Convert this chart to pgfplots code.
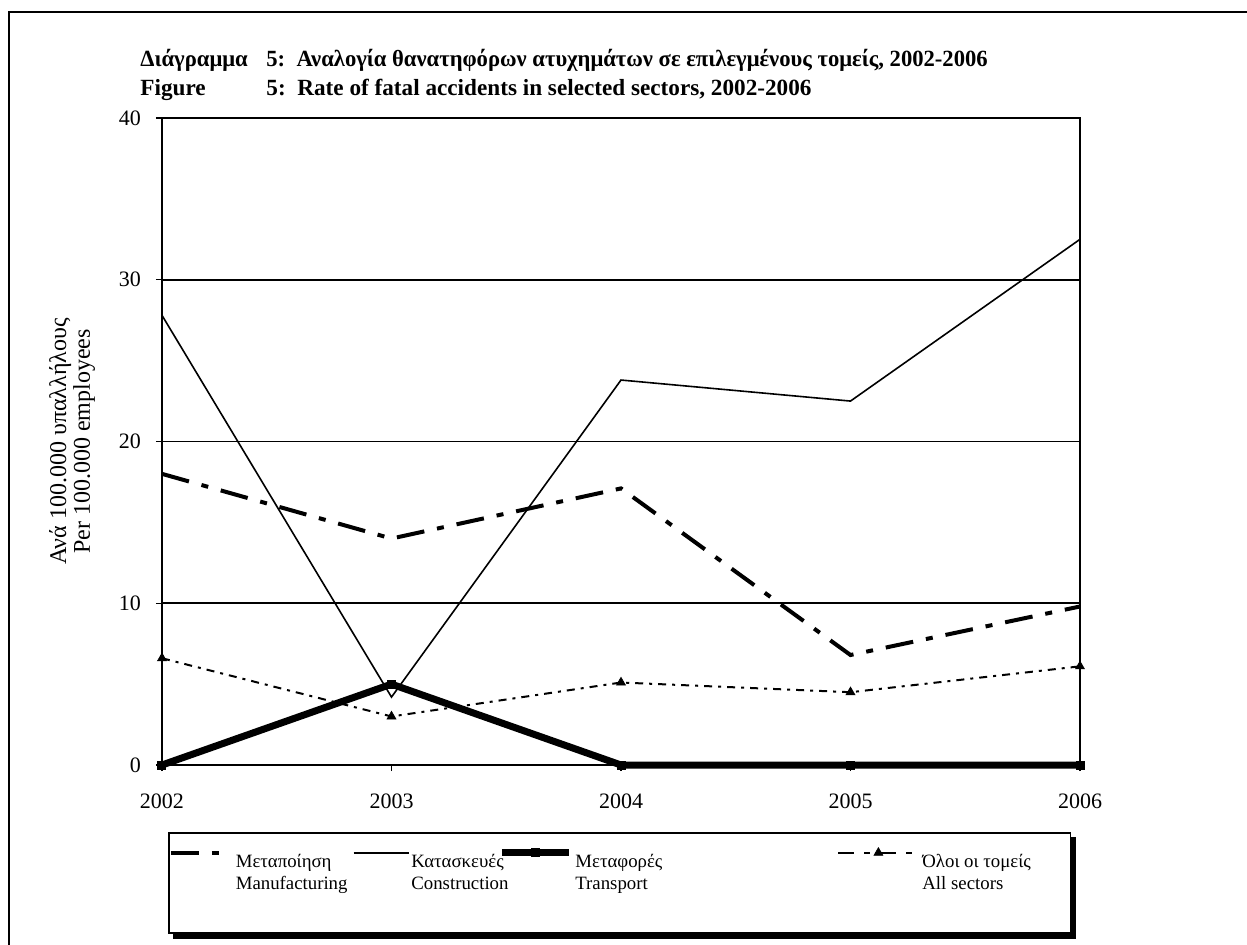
\documentclass[border=0pt]{standalone}
\usepackage{fontspec}
\setmainfont{Liberation Serif}
\usepackage{pgfplots}
\pgfplotsset{compat=1.18}
\pgfdeclarelayer{background}
\pgfsetlayers{background,main}

\pgfplotsset{
  limgA/.style={legend image code/.code={\draw[##1] (0pt,15pt) -- (25pt,15pt);}},
  limgB/.style={legend image code/.code={\draw[##1] (0pt,15pt) -- (27.5pt,15pt);}},
  limgC/.style={legend image code/.code={\draw[mark repeat=2, mark phase=2, ##1] plot coordinates {(0pt,15pt) (16.75pt,15pt) (33.5pt,15pt)};}},
  limgD/.style={legend image code/.code={\draw[mark repeat=2, mark phase=2, ##1, dash pattern=on 8pt off 5pt on 3pt off 5pt] plot coordinates {(0pt,15pt) (20pt,15pt) (40pt,15pt)};}},
}

\begin{document}
\begin{tikzpicture}[x=1pt,y=1pt]
\useasboundingbox (0,0) rectangle (623.5,472);
\draw[line width=0.9pt] (4.5,-5) -- (4.5,466) -- (630,466);
\node[anchor=base west, inner sep=0pt, font=\bfseries\fontsize{11.6}{14}\selectfont] at (70,438.5)
  {\scalebox{0.975}[1]{\makebox[64.6pt][l]{Διάγραμμα}5:\ \ Αναλογία θανατηφόρων ατυχημάτων σε επιλεγμένους τομείς, 2002-2006}};
\node[anchor=base west, inner sep=0pt, font=\bfseries\fontsize{11.6}{14}\selectfont] at (70,424)
  {\makebox[63pt][l]{Figure}5:\ \ Rate of fatal accidents in selected sectors, 2002-2006};
\begin{axis}[
  at={(81pt,89.5pt)}, anchor=south west,
  scale only axis, width=459pt, height=323.5pt,
  xmin=0, xmax=4, ymin=0, ymax=40,
  xtick={0,1,2,3,4}, xticklabels={2002,2003,2004,2005,2006},
  ytick={0,10,20,30,40},
  ymajorgrids, grid style={black, line width=0.9pt},
  axis line style={line width=1.1pt},
  tick style={black, line width=0.6pt},
  tick align=outside, major tick length=3pt,
  xtick pos=left, ytick pos=left,
  ticklabel style={font=\fontsize{11}{12}\selectfont},
  xticklabel style={yshift=-8pt},
  yticklabel style={xshift=-4pt},
  /pgf/number format/assume math mode=true,
  clip=false,
  ylabel={Ανά 100.000 υπαλλήλους\\Per 100.000 employees},
  ylabel style={at={(axis description cs:-0.098,0.5)}, anchor=center, align=center, font=\fontsize{12}{10.5}\selectfont},
  legend columns=4,
  legend style={at={(axis description cs:0.00654,-0.10355)}, anchor=north west, name=leg,
    draw=black, fill=white, line width=0.8pt, inner xsep=0pt, inner ysep=7pt,
    column sep=0pt, row sep=0pt,
    font=\fontsize{9.4}{11}\selectfont,
    nodes={inner sep=0pt, text height=10.5pt, text depth=25.5pt}},
]
\addplot[black, line width=2pt, dash pattern=on 14pt off 6.5pt on 3.5pt off 6.5pt, limgA]
  coordinates {(0,18.0) (1,14.0) (2,17.1) (3,6.8) (4,9.8)};
\addlegendentry{\makebox[65pt][l]{\hspace{6.5pt}\begin{tabular}[t]{@{}l@{}}Μεταποίηση\\Manufacturing\end{tabular}}}
\addplot[black, line width=0.8pt, limgB]
  coordinates {(0,27.8) (1,4.2) (2,23.8) (3,22.5) (4,32.5)};
\addlegendentry{\makebox[44.5pt][l]{\hspace{1pt}\begin{tabular}[t]{@{}l@{}}Κατασκευές\\Construction\end{tabular}}}
\addplot[black, line width=3.5pt, mark=square*, mark size=2pt, mark options={solid, line width=0.5pt}, limgC]
  coordinates {(0,0) (1,5.0) (2,0) (3,0) (4,0)};
\addlegendentry{\makebox[132.5pt][l]{\hspace{1.5pt}\begin{tabular}[t]{@{}l@{}}Μεταφορές\\Transport\end{tabular}}}
\addplot[black, line width=1pt, dash pattern=on 4pt off 3pt on 1.5pt off 3pt, mark=triangle*, mark size=2.6pt, mark options={solid, line width=0.3pt}, limgD]
  coordinates {(0,6.6) (1,3.0) (2,5.1) (3,4.5) (4,6.1)};
\addlegendentry{\makebox[75.5pt][l]{\hspace{1.5pt}\begin{tabular}[t]{@{}l@{}}Όλοι οι τομείς\\All sectors\end{tabular}}}
\end{axis}
\begin{pgfonlayer}{background}
\fill[black] ([xshift=2.5pt,yshift=-2.5pt]leg.south west) rectangle ([xshift=2.5pt,yshift=-2.5pt]leg.north east);
\end{pgfonlayer}
\end{tikzpicture}
\end{document}
